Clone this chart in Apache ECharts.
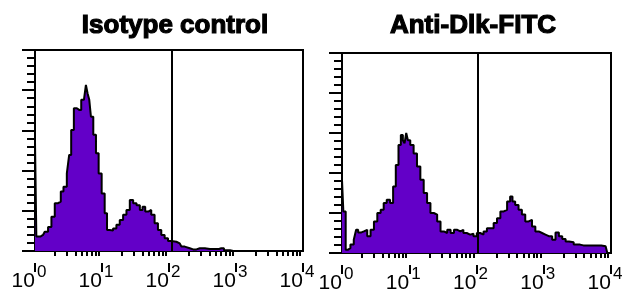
<!DOCTYPE html>
<html>
<head>
<meta charset="utf-8">
<script src="https://cdn.jsdelivr.net/npm/echarts@6/dist/echarts.min.js"></script>
<style>
html, body { margin: 0; padding: 0; background: #fff; }
#c { width: 627px; height: 294px; }
</style>
</head>
<body>
<div id="c"></div>
<script>
// titles of the two panels
var titles = ['Isotype control', 'Anti-Dlk-FITC'];
// x: log10 fluorescence (decades), y: relative count
var decades = [0, 1, 2, 3, 4];
var isoX = [0, 0.04, 0.12, 0.17, 0.22, 0.27, 0.32, 0.37, 0.4, 0.45, 0.5, 0.52, 0.56, 0.6, 0.65, 0.67, 0.71, 0.75, 0.77, 0.8, 0.82, 0.85, 0.89, 0.93, 0.97, 1.02, 1.06, 1.09, 1.14, 1.19, 1.24, 1.29, 1.34, 1.39, 1.44, 1.49, 1.54, 1.59, 1.62, 1.67, 1.71, 1.76, 1.81, 1.86, 1.91, 1.96, 2.01, 2.06, 2.16, 2.21, 2.26, 2.36, 2.46, 2.61, 2.71, 2.78, 2.86, 2.96, 4];
var isoY = [2.72, 0.36, 0.4, 0.48, 0.6, 0.85, 1.19, 1.23, 1.48, 1.6, 1.93, 2.39, 3.01, 3.55, 3.59, 3.51, 3.76, 3.8, 4.13, 3.92, 3.76, 3.34, 2.89, 2.43, 1.93, 1.43, 0.94, 0.52, 0.51, 0.56, 0.65, 0.77, 0.9, 1.02, 1.27, 1.19, 1.14, 1.02, 1.1, 0.98, 1.02, 0.9, 0.69, 0.52, 0.4, 0.32, 0.25, 0.23, 0.19, 0.11, 0.07, 0.04, 0.07, 0.05, 0.05, 0.07, 0.02, 0, 0];
var dlkX = [0, 0.04, 0.07, 0.1, 0.15, 0.2, 0.22, 0.26, 0.3, 0.35, 0.4, 0.45, 0.5, 0.55, 0.6, 0.64, 0.69, 0.74, 0.78, 0.82, 0.86, 0.89, 0.92, 0.94, 0.97, 0.99, 1.04, 1.09, 1.14, 1.19, 1.24, 1.29, 1.34, 1.39, 1.44, 1.49, 1.54, 1.59, 1.64, 1.69, 1.74, 1.78, 1.83, 1.88, 1.93, 1.98, 2.03, 2.08, 2.13, 2.18, 2.23, 2.28, 2.33, 2.38, 2.43, 2.48, 2.52, 2.55, 2.6, 2.65, 2.7, 2.75, 2.8, 2.85, 2.9, 2.95, 3.0, 3.05, 3.1, 3.15, 3.2, 3.25, 3.3, 3.35, 3.4, 3.49, 3.59, 3.79, 3.92, 3.97, 4];
var dlkY = [1.83, 1.04, 0.08, 0.12, 0.21, 0.33, 0.58, 0.51, 0.54, 0.58, 0.42, 0.58, 0.79, 1.0, 1.08, 1.25, 1.33, 1.25, 1.66, 2.2, 2.7, 2.95, 2.82, 2.74, 3.0, 2.82, 2.7, 2.49, 2.16, 1.83, 1.5, 1.25, 1.0, 0.96, 0.79, 0.54, 0.5, 0.58, 0.5, 0.58, 0.54, 0.58, 0.5, 0.46, 0.48, 0.42, 0.5, 0.46, 0.54, 0.62, 0.62, 0.75, 0.87, 1.04, 1.08, 1.29, 1.41, 1.29, 1.2, 1.08, 0.96, 0.79, 0.83, 0.66, 0.54, 0.5, 0.46, 0.42, 0.42, 0.33, 0.51, 0.42, 0.35, 0.29, 0.27, 0.21, 0.19, 0.19, 0.17, 0, 0];
// gate marker position (decades)
var gates = [2.04, 2.02];

var chart = echarts.init(document.getElementById('c'));

// decade ticks plus log-spaced ticks 2..9 within each decade
var majorTicks = decades.slice();
var minorTicks = [];
decades.slice(0, -1).forEach(function (d) {
	for (var k = 2; k <= 9; k++) minorTicks.push(d + Math.log10(k));
});

var grids = [
	{ left: 35, top: 50, width: 268, height: 201 },
	{ left: 342, top: 53, width: 269, height: 200 }
];
var centers = [170, 468];
var xs = [isoX, dlkX], ys = [isoY, dlkY];

var option = {
	animation: false,
	title: [],
	grid: [],
	xAxis: [],
	yAxis: [],
	series: []
};

function tickAxis(gridIndex, values, len) {
	// top axis of a thin strip sitting on the plot's bottom edge, ticks pointing down
	return {
		gridIndex: gridIndex, type: 'value', position: 'top', min: 0, max: 4,
		axisLine: { show: false },
		axisTick: { show: true, inside: true, customValues: values, length: len, lineStyle: { color: '#000', width: 2 } },
		axisLabel: { show: false },
		splitLine: { show: false }
	};
}

grids.forEach(function (g, i) {
	option.title.push({
		text: titles[i],
		left: centers[i],
		top: 8,
		textAlign: 'center',
		textStyle: {
			fontFamily: 'Liberation Sans', fontWeight: 'bold', fontSize: 26, color: '#000',
			textBorderColor: '#000', textBorderWidth: 1.2
		}
	});
	option.grid.push({
		left: g.left, top: g.top, width: g.width, height: g.height,
		show: true, borderColor: '#000', borderWidth: 2
	});
	option.xAxis.push({
		gridIndex: i, type: 'value', position: 'bottom', min: 0, max: 4, interval: 1,
		axisLine: { show: true, lineStyle: { color: '#000', width: 2 } },
		axisTick: { show: false },
		splitLine: { show: false },
		axisLabel: {
			show: true, margin: 13, showMaxLabel: true, showMinLabel: true,
			formatter: function (v) { return '{b|10}{e|' + v + '}'; },
			rich: {
				b: { fontFamily: 'Liberation Sans', fontSize: 21, color: '#000', lineHeight: 26 },
				e: { fontFamily: 'Liberation Sans', fontSize: 17, color: '#000', padding: [0, 12, 18, 2] }
			}
		}
	});
	option.yAxis.push({
		gridIndex: i, type: 'value', min: 0, max: 5, interval: 1,
		axisLine: { show: true, lineStyle: { color: '#000', width: 2 } },
		axisTick: { show: true, length: 13, lineStyle: { color: '#000', width: 2 } },
		minorTick: { show: true, splitNumber: 5, length: 8, lineStyle: { color: '#000', width: 2 } },
		axisLabel: { show: false },
		splitLine: { show: false }
	});
	option.series.push({
		type: 'line',
		xAxisIndex: i,
		yAxisIndex: i,
		step: 'middle',
		symbol: 'none',
		data: xs[i].map(function (x, j) { return [x, ys[i][j]]; }),
		lineStyle: { color: '#000', width: 2 },
		areaStyle: { color: '#6300c8', opacity: 1 },
		markLine: {
			silent: true,
			symbol: ['none', 'none'],
			label: { show: false },
			lineStyle: { color: '#000', width: 2, type: 'solid' },
			data: [{ xAxis: gates[i] }]
		}
	});
});

// thin strips under each plot carrying the x ticks
grids.forEach(function (g, i) {
	option.grid.push({ left: g.left, top: g.top + g.height, width: g.width, height: 12, show: false });
	option.xAxis.push(tickAxis(2 + i, majorTicks, 9));
	option.xAxis.push(tickAxis(2 + i, minorTicks, 5));
	option.yAxis.push({
		gridIndex: 2 + i, type: 'value', min: 0, max: 1,
		axisLine: { show: false }, axisTick: { show: false }, axisLabel: { show: false }, splitLine: { show: false }
	});
});

chart.setOption(option);
</script>
</body>
</html>
